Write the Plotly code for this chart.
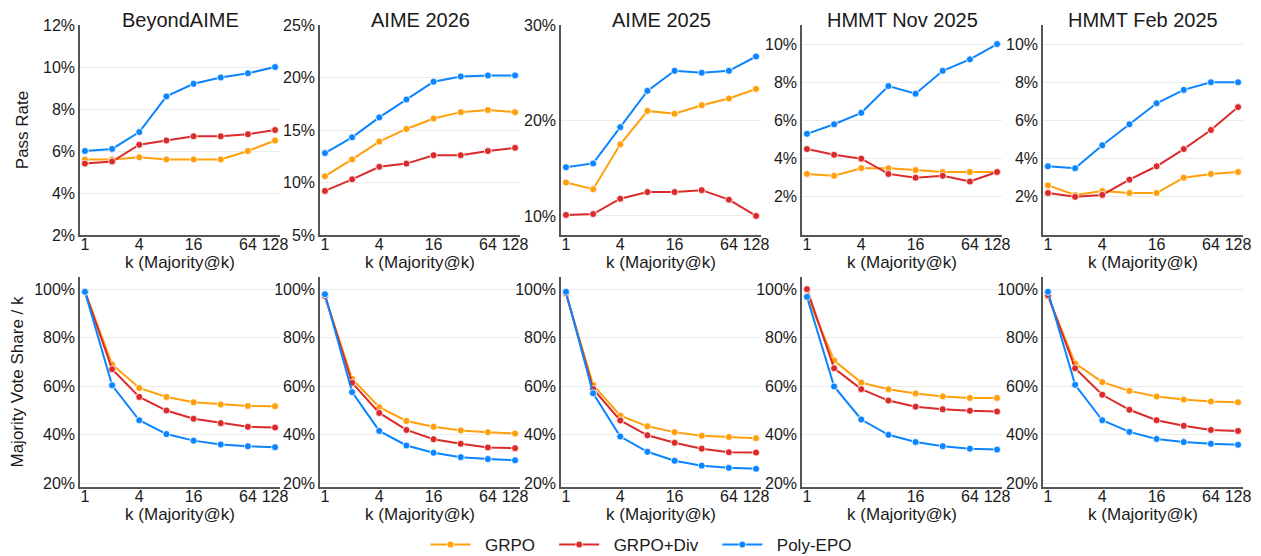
import plotly.graph_objects as go

k_values = [1, 2, 4, 8, 16, 32, 64, 128]
x_tick_vals = [1, 4, 16, 64, 128]
x_tick_text = ["1", "4", "16", "64", "128"]

benchmarks = ["BeyondAIME", "AIME 2026", "AIME 2025", "HMMT Nov 2025", "HMMT Feb 2025"]
series_names = ["GRPO", "GRPO+Div", "Poly-EPO"]
series_colors = ["#FF9F0A", "#DB2A2A", "#0A84FF"]

# Pass rate (%) at Majority@k
pass_grpo = [
    [5.6, 5.6, 5.7, 5.6, 5.6, 5.6, 6.0, 6.5],
    [10.6, 12.2, 13.9, 15.1, 16.1, 16.7, 16.9, 16.7],
    [13.5, 12.8, 17.5, 21.0, 20.7, 21.6, 22.3, 23.3],
    [3.2, 3.1, 3.5, 3.5, 3.4, 3.3, 3.3, 3.3],
    [2.6, 2.1, 2.3, 2.2, 2.2, 3.0, 3.2, 3.3],
]
pass_grpo_div = [
    [5.4, 5.5, 6.3, 6.5, 6.7, 6.7, 6.8, 7.0],
    [9.2, 10.3, 11.5, 11.8, 12.6, 12.6, 13.0, 13.3],
    [10.1, 10.2, 11.8, 12.5, 12.5, 12.7, 11.7, 10.0],
    [4.5, 4.2, 4.0, 3.2, 3.0, 3.1, 2.8, 3.3],
    [2.2, 2.0, 2.1, 2.9, 3.6, 4.5, 5.5, 6.7],
]
pass_poly_epo = [
    [6.0, 6.1, 6.9, 8.6, 9.2, 9.5, 9.7, 10.0],
    [12.8, 14.3, 16.2, 17.9, 19.6, 20.1, 20.2, 20.2],
    [15.1, 15.5, 19.3, 23.1, 25.2, 25.0, 25.2, 26.7],
    [5.3, 5.8, 6.4, 7.8, 7.4, 8.6, 9.2, 10.0],
    [3.6, 3.5, 4.7, 5.8, 6.9, 7.6, 8.0, 8.0],
]

# Majority vote share / k (%)
share_grpo = [
    [99.0, 69.0, 59.3, 55.6, 53.4, 52.5, 51.9, 51.8],
    [97.0, 63.0, 51.4, 45.7, 43.3, 41.8, 41.1, 40.5],
    [98.1, 60.6, 47.9, 43.5, 41.1, 39.6, 39.1, 38.6],
    [97.2, 70.6, 61.5, 58.8, 57.0, 55.8, 55.2, 55.2],
    [97.0, 69.4, 61.7, 58.1, 55.8, 54.5, 53.7, 53.4],
]
share_grpo_div = [
    [99.0, 67.0, 55.6, 50.0, 46.6, 44.8, 43.3, 43.0],
    [97.2, 61.4, 49.0, 42.0, 38.2, 36.3, 34.8, 34.5],
    [98.3, 58.9, 45.9, 39.8, 36.7, 34.3, 32.8, 32.7],
    [100.0, 67.4, 58.8, 54.1, 51.6, 50.5, 49.9, 49.6],
    [97.5, 67.4, 56.5, 50.3, 46.0, 43.7, 42.0, 41.6],
]
share_poly_epo = [
    [98.9, 60.4, 46.0, 40.3, 37.6, 36.0, 35.3, 34.9],
    [97.9, 57.6, 41.6, 35.6, 32.6, 30.8, 30.0, 29.5],
    [98.9, 57.1, 39.3, 33.0, 29.3, 27.3, 26.4, 26.0],
    [96.8, 59.9, 46.3, 40.0, 37.0, 35.3, 34.3, 33.9],
    [98.9, 60.6, 46.0, 41.2, 38.3, 37.0, 36.3, 35.9],
]

pass_ranges = [[2, 12], [5, 25], [8, 30], [0, 11], [0, 11]]
pass_ticks = [[2, 4, 6, 8, 10, 12], [5, 10, 15, 20, 25], [10, 20, 30], [2, 4, 6, 8, 10], [2, 4, 6, 8, 10]]
share_range = [18.5, 105]
share_ticks = [20, 40, 60, 80, 100]

# figure drawn inside the page's 8px body margin
W, H = 1245, 548
col_left_px = [72, 312, 553, 794, 1035]
col_w_px = 200
top_row_px = (17, 227)
bot_row_px = (269, 479)

FONT = "Liberation Sans, Arial, Helvetica, sans-serif"
TXT = "#1a1a1a"

fig = go.Figure()

pass_data = [pass_grpo, pass_grpo_div, pass_poly_epo]
share_data = [share_grpo, share_grpo_div, share_poly_epo]
legend_labels = ["\u00a0\u00a0GRPO\u00a0\u00a0\u00a0", "\u00a0\u00a0GRPO+Div\u00a0\u00a0\u00a0", "\u00a0\u00a0Poly-EPO"]

def ydom(px):
    return [1 - px[1] / H, 1 - px[0] / H]

for row in range(2):
    for c in range(5):
        idx = row * 5 + c + 1
        xa = "x" if idx == 1 else f"x{idx}"
        ya = "y" if idx == 1 else f"y{idx}"
        data = pass_data if row == 0 else share_data
        for s in range(3):
            fig.add_trace(go.Scatter(
                x=k_values, y=data[s][c], mode="lines+markers",
                name=legend_labels[s], legendgroup=series_names[s],
                showlegend=(idx == 1),
                line=dict(color=series_colors[s], width=2),
                marker=dict(size=7, color=series_colors[s], line=dict(color="white", width=0.8)),
                xaxis=xa, yaxis=ya,
            ))
        x0 = col_left_px[c] / W
        x1 = (col_left_px[c] + col_w_px) / W
        xkey = "xaxis" if idx == 1 else f"xaxis{idx}"
        ykey = "yaxis" if idx == 1 else f"yaxis{idx}"
        if row == 0:
            yr, yt = pass_ranges[c], pass_ticks[c]
            ytitle = "Pass Rate" if c == 0 else ""
            dom = ydom(top_row_px)
        else:
            yr, yt = share_range, share_ticks
            ytitle = "Majority Vote Share / k" if c == 0 else ""
            dom = ydom(bot_row_px)
        fig.update_layout(**{
            xkey: dict(
                domain=[x0, x1], anchor=ya, type="log", automargin=False,
                range=[-0.055, 2.162], tickmode="array", tickvals=x_tick_vals, ticktext=x_tick_text,
                showgrid=False, zeroline=False, showline=True, linecolor="#555", linewidth=1.5,
                ticks="", tickfont=dict(size=16, color=TXT, family=FONT), ticklabelstandoff=-6,
                title=dict(text="k (Majority@k)", font=dict(size=17, color=TXT, family=FONT), standoff=0),
            ),
            ykey: dict(
                domain=dom, anchor=xa, range=yr, automargin=False,
                tickmode="array", tickvals=yt, ticktext=[f"{v}%" for v in yt],
                showgrid=True, gridcolor="#ebebeb", gridwidth=1,
                zeroline=False, showline=True, linecolor="#555", linewidth=1.5,
                ticks="", tickfont=dict(size=16, color=TXT, family=FONT),
                title=dict(text=ytitle, font=dict(size=17, color=TXT, family=FONT), standoff=10),
            ),
        })

annotations = []
for c in range(5):
    annotations.append(dict(
        text=benchmarks[c], x=(col_left_px[c] + col_w_px / 2) / W, y=1,
        xref="paper", yref="paper", xanchor="center", yanchor="top", borderpad=0,
        showarrow=False, font=dict(size=20, color=TXT, family=FONT),
    ))

fig.update_layout(
    template="none",
    width=W, height=H,
    margin=dict(l=0, r=0, t=0, b=0, autoexpand=False),
    paper_bgcolor="white", plot_bgcolor="white",
    font=dict(family=FONT, color=TXT),
    annotations=annotations,
    showlegend=True,
    legend=dict(orientation="h", x=633 / W, xanchor="center", y=1 - 537 / H, yanchor="middle",
                font=dict(size=17, color=TXT, family=FONT), itemwidth=40,
                bgcolor="rgba(0,0,0,0)"),
)

fig.write_html("out.html")
